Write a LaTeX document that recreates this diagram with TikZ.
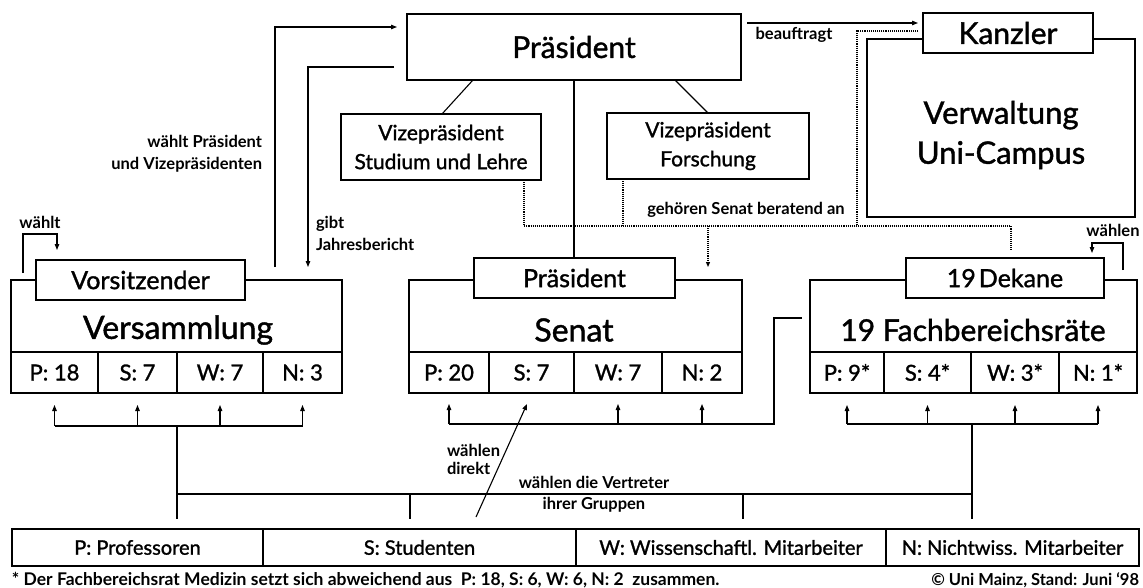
\documentclass[tikz,border=0pt]{standalone}
\usepackage{fontspec}
\setmainfont{Lato}
\newfontfamily\boxfont{Lato}[FakeBold=1.3]
\usetikzlibrary{arrows.meta}
\begin{document}
\begin{tikzpicture}[x=1pt,y=-1pt,
  every node/.style={inner sep=0pt, outer sep=0pt},
  bx/.style={draw, line width=1.1pt, rectangle, align=center},
  wbx/.style={bx, fill=white},
  big/.style={font=\boxfont\fontsize{30}{34}\selectfont},
  mid/.style={font=\boxfont\fontsize{25}{30}\selectfont},
  vz/.style={font=\boxfont\fontsize{21}{29}\selectfont},
  cell/.style={bx, font=\boxfont\fontsize{22}{26}\selectfont, minimum height=41pt},
  grp/.style={bx, font=\boxfont\fontsize{20}{24}\selectfont, minimum height=37pt},
  lbl/.style={font=\bfseries\fontsize{16.5}{22}\selectfont},
  ln/.style={line width=1.1pt},
  arr/.style={ln, -{Triangle[length=6pt,width=4.5pt]}},
  dot/.style={line width=1.1pt, densely dotted},
]
\useasboundingbox (0,0) rectangle (1143,588);

% top
\node[bx, minimum width=334pt, minimum height=66pt, big] (pres) at (574,47) {Präsident};
\node[bx, minimum width=200pt, minimum height=66pt, vz] (vpsl) at (441,147) {Vizepräsident\\Studium und Lehre};
\node[bx, minimum width=202pt, minimum height=66pt, vz] (vpf) at (708,146) {Vizepräsident\\Forschung};
\node[bx, minimum width=268pt, minimum height=178pt] (verw) at (1001,128) {};
\node[align=center, font=\boxfont\fontsize{31}{40}\selectfont] (verwt) at (1001,135) {Verwaltung\\Uni-Campus};
\node[wbx, minimum width=170pt, minimum height=40pt, big] (kanz) at (1008,33) {Kanzler};

% Versammlung
\node[bx, minimum width=331pt, minimum height=72pt] (versbox) at (176.5,316) {};
\node[font=\boxfont\fontsize{32}{36}\selectfont] (verst) at (178,330) {Versammlung};
\node[wbx, minimum width=209pt, minimum height=40pt, mid] (vors) at (140.5,280) {Vorsitzender};
\node[cell, minimum width=87pt] (vP) at (54.5,372.5) {P: 18};
\node[cell, minimum width=79pt] (vS) at (137.5,372.5) {S: 7};
\node[cell, minimum width=86pt] (vW) at (220,372.5) {W: 7};
\node[cell, minimum width=79pt] (vN) at (302.5,372.5) {N: 3};

% Senat
\node[bx, minimum width=333pt, minimum height=72pt] (senbox) at (575.5,316) {};
\node[font=\boxfont\fontsize{32}{36}\selectfont] (sent) at (574,330) {Senat};
\node[wbx, minimum width=201pt, minimum height=40pt, mid] (spres) at (574.5,278) {Präsident};
\node[cell, minimum width=80pt] (sP) at (449,372.5) {P: 20};
\node[cell, minimum width=85pt] (sS) at (531.5,372.5) {S: 7};
\node[cell, minimum width=88pt] (sW) at (618,372.5) {W: 7};
\node[cell, minimum width=80pt] (sN) at (702,372.5) {N: 2};

% Fachbereichsraete
\node[bx, minimum width=327pt, minimum height=72pt] (fachbox) at (973.5,316) {};
\node[big] (facht) at (973,330) {19 Fachbereichsräte};
\node[wbx, minimum width=198pt, minimum height=40pt, mid] (dek) at (1005,278) {19\kern3pt Dekane};
\node[cell, minimum width=74pt] (fP) at (847,372.5) {P: 9*};
\node[cell, minimum width=87pt] (fS) at (927.5,372.5) {S: 4*};
\node[cell, minimum width=88pt] (fW) at (1015,372.5) {W: 3*};
\node[cell, minimum width=78pt] (fN) at (1098,372.5) {N: 1*};

% groups
\node[grp, minimum width=251pt] (gP) at (137.5,547.5) {P: Professoren};
\node[grp, minimum width=313pt] (gS) at (419.5,547.5) {S: Studenten};
\node[grp, minimum width=310pt] (gW) at (731,547.5) {W: Wissenschaftl. Mitarbeiter};
\node[grp, minimum width=253pt] (gN) at (1012.5,547.5) {N: Nichtwiss. Mitarbeiter};

% president lines
\draw[ln] ([xshift=-101pt]pres.south) -- ([xshift=1pt]vpsl.north);
\draw[ln] ([xshift=101pt]pres.south) -- (vpf.north);
\draw[ln] (pres.south) -- (pres.south |- spres.north);

% upper arrows
\draw[arr] ([xshift=98.5pt,yshift=13pt]versbox.north) |- ([xshift=-10pt,yshift=20pt]pres.west);
\draw[arr] ([xshift=-13pt,yshift=-20pt]pres.west) -| ([xshift=131.5pt,yshift=13pt]versbox.north);
\draw[arr] ([xshift=12pt,yshift=7pt]versbox.north west) -- ++(0,-39) -| ([xshift=21pt,yshift=10pt]vors.north west);
\draw[arr] ([xshift=6pt,yshift=24pt]pres.east) -- ([xshift=-5pt,yshift=10pt]kanz.west);
\draw[arr] ([xshift=-14pt,yshift=10pt]fachbox.north east) -- ++(0,-27) -| ([xshift=-12pt,yshift=5pt]dek.north east);

% dotted
\coordinate (dl) at (0,226);
\coordinate (d1) at ([xshift=83pt]vpsl.south);
\coordinate (d2) at ([xshift=-85pt]vpf.south);
\coordinate (d3) at ([xshift=6pt,yshift=8pt]dek.north);
\coordinate (d4) at ([xshift=-5pt,yshift=2pt]kanz.west);
\coordinate (d5) at (857,226);
\coordinate (sa) at ([yshift=13pt]senbox.north);
\draw[dot] (d1) -- (d1 |- dl) -| (d3);
\draw[dot] (d2) -- (d2 |- dl);
\draw[dot] (d4) -| (d5);
\draw[dot, -{Triangle[length=5pt,width=4pt]}] (vpf.south |- dl) -- (sa -| vpf.south);

% bottom
\coordinate (vb) at (177,426);
\coordinate (sb) at (774,424);
\coordinate (fb) at (972,424);
\coordinate (hl) at (0,494);
\coordinate (gt) at (0,519);
\coordinate (h2) at (410,494);
\coordinate (h3) at (743,494);
\foreach \q in {vP,vS,vW,vN} {\draw[arr] (\q.south |- vb) -- ([yshift=-12pt]\q.south);}
\draw[ln] (vP.south |- vb) -- (vN.south |- vb);
\draw[ln] (vb) -- (vb |- gt);
\foreach \q in {sP,sW,sN} {\draw[arr] (\q.south |- sb) -- ([yshift=-11pt]\q.south);}
\draw[ln] (sP.south |- sb) -- (sb) |- ([xshift=-8pt,yshift=-2pt]fachbox.west);
\foreach \q in {fP,fS,fW,fN} {\draw[arr] (\q.south |- fb) -- ([yshift=-12pt]\q.south);}
\draw[ln] (fP.south |- fb) -- (fN.south |- fb);
\draw[ln] (fb) -- (fb |- gt);
\draw[ln] (vb |- hl) -- (fb |- hl);
\draw[ln] (h2) -- (h2 |- gt);
\draw[ln] (h3) -- (h3 |- gt);
\draw[arr] ([xshift=56.5pt,yshift=12pt]gS.north) -- ([xshift=-4.5pt,yshift=-11pt]sS.south);

% labels
\node[lbl, anchor=east, align=right] (l1) at (262,154) {wählt Präsident\\und Vizepräsidenten};
\node[lbl, anchor=west, align=left] (l2) at (316,233) {gibt\\Jahresbericht};
\node[lbl] (l3) at (40,222) {wählt};
\node[lbl] (l4) at (794,35) {beauftragt};
\node[lbl] (l5) at (746,210) {gehören Senat beratend an};
\node[lbl] (l6) at (1113,230) {wählen};
\node[lbl, anchor=west, align=left, font=\bfseries\fontsize{16.5}{18}\selectfont] (l7) at (447,459) {wählen\\direkt};
\node[lbl] (l8) at (594,482) {wählen die Vertreter};
\node[lbl] (l9) at (594,505) {ihrer Gruppen};
\node[lbl, anchor=west, font=\bfseries\fontsize{17.5}{20}\selectfont] (fn) at (12,580) {* Der Fachbereichsrat Medizin setzt sich abweichend aus\ \ P: 18, S: 6, W: 6, N: 2\ \ zusammen.};
\node[lbl, anchor=east, font=\bfseries\fontsize{16.5}{20}\selectfont] (cr) at (1139,580) {© Uni Mainz, Stand: Juni ‘98};
\end{tikzpicture}
\end{document}
